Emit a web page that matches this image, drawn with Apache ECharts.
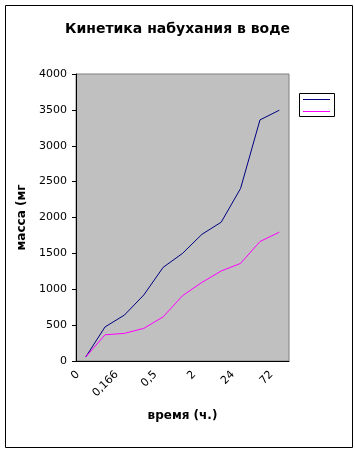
<!DOCTYPE html>
<html lang="ru">
<head>
    <meta charset="UTF-8">
    <title>Кинетика набухания в воде</title>
    <script src="https://cdn.jsdelivr.net/npm/echarts@6/dist/echarts.min.js"></script>
    <style>
        html, body { margin: 0; padding: 0; background: #fff; }
        #main { width: 355px; height: 452px; }
    </style>
</head>
<body>
    <div id="main"></div>
    <script type="text/javascript">
    // time points (h), only every other one is labelled on the chart
    var times = ['0', '0,083', '0,166', '0,33', '0,5', '1', '2', '6', '24', '48', '72'];
    // mass, mg
    var series1 = [55, 475, 640, 920, 1305, 1500, 1765, 1935, 2405, 3360, 3495];
    var series2 = [55, 365, 385, 455, 615, 910, 1095, 1255, 1360, 1665, 1795];
    var yTicks = [0, 500, 1000, 1500, 2000, 2500, 3000, 3500, 4000];

    var myChart = echarts.init(document.getElementById('main'));

    var font = 'DejaVu Sans';

    var option = {
        backgroundColor: '#fff',
        animation: false,
        title: {
            text: 'Кинетика набухания в воде',
            left: 'center',
            top: 17,
            textStyle: { fontFamily: font, fontWeight: 'bold', fontSize: 14, color: '#000' }
        },
        grid: {
            left: 76, right: 66, top: 74, bottom: 91,
            show: true,
            backgroundColor: '#c0c0c0',
            borderColor: '#808080',
            borderWidth: 1
        },
        xAxis: {
            type: 'category',
            data: times,
            boundaryGap: true,
            name: 'время (ч.)',
            nameLocation: 'middle',
            nameGap: 49,
            nameTextStyle: { fontFamily: font, fontWeight: 'bold', fontSize: 12, color: '#000' },
            axisLine: { lineStyle: { color: '#000', width: 1 } },
            axisTick: { length: 4, interval: 0, lineStyle: { color: '#000' } },
            axisLabel: {
                interval: 1,
                rotate: 45,
                margin: 4,
                padding: [0, 11, 0, 0],
                fontFamily: font, fontSize: 11, color: '#000'
            },
            splitLine: { show: false }
        },
        yAxis: {
            type: 'value',
            min: yTicks[0],
            max: yTicks[yTicks.length - 1],
            interval: yTicks[1] - yTicks[0],
            name: 'масса (мг',
            nameLocation: 'middle',
            nameGap: 47,
            nameTextStyle: { fontFamily: font, fontWeight: 'bold', fontSize: 12, color: '#000' },
            axisLine: { show: true, lineStyle: { color: '#000', width: 1 } },
            axisTick: { show: true, length: 4, lineStyle: { color: '#000' } },
            axisLabel: {
                margin: 9,
                formatter: function (v) { return String(v); },
                fontFamily: font, fontSize: 11, color: '#000'
            },
            splitLine: { show: false }
        },
        series: [
            {
                name: 'Ряд1',
                type: 'line',
                data: series1,
                symbol: 'none',
                lineStyle: { color: '#000080', width: 1 },
                itemStyle: { color: '#000080' }
            },
            {
                name: 'Ряд2',
                type: 'line',
                data: series2,
                symbol: 'none',
                lineStyle: { color: '#ff00ff', width: 1 },
                itemStyle: { color: '#ff00ff' }
            }
        ],
        // outer frame and the legend box (the legend has no text in the original)
        graphic: [
            {
                type: 'rect',
                shape: { x: 5.5, y: 5.5, width: 347, height: 442 },
                style: { fill: 'none', stroke: '#000', lineWidth: 1 },
                silent: true
            },
            {
                type: 'group',
                left: 299, top: 93,
                children: [
                    { type: 'rect', shape: { x: 0.5, y: 0.5, width: 35, height: 23 },
                      style: { fill: '#fff', stroke: '#000', lineWidth: 1 } },
                    { type: 'line', shape: { x1: 4, y1: 6.5, x2: 31, y2: 6.5 },
                      style: { stroke: '#000080', lineWidth: 1 } },
                    { type: 'line', shape: { x1: 4, y1: 18.5, x2: 31, y2: 18.5 },
                      style: { stroke: '#ff00ff', lineWidth: 1 } }
                ]
            }
        ]
    };

    myChart.setOption(option);
    </script>
</body>
</html>
